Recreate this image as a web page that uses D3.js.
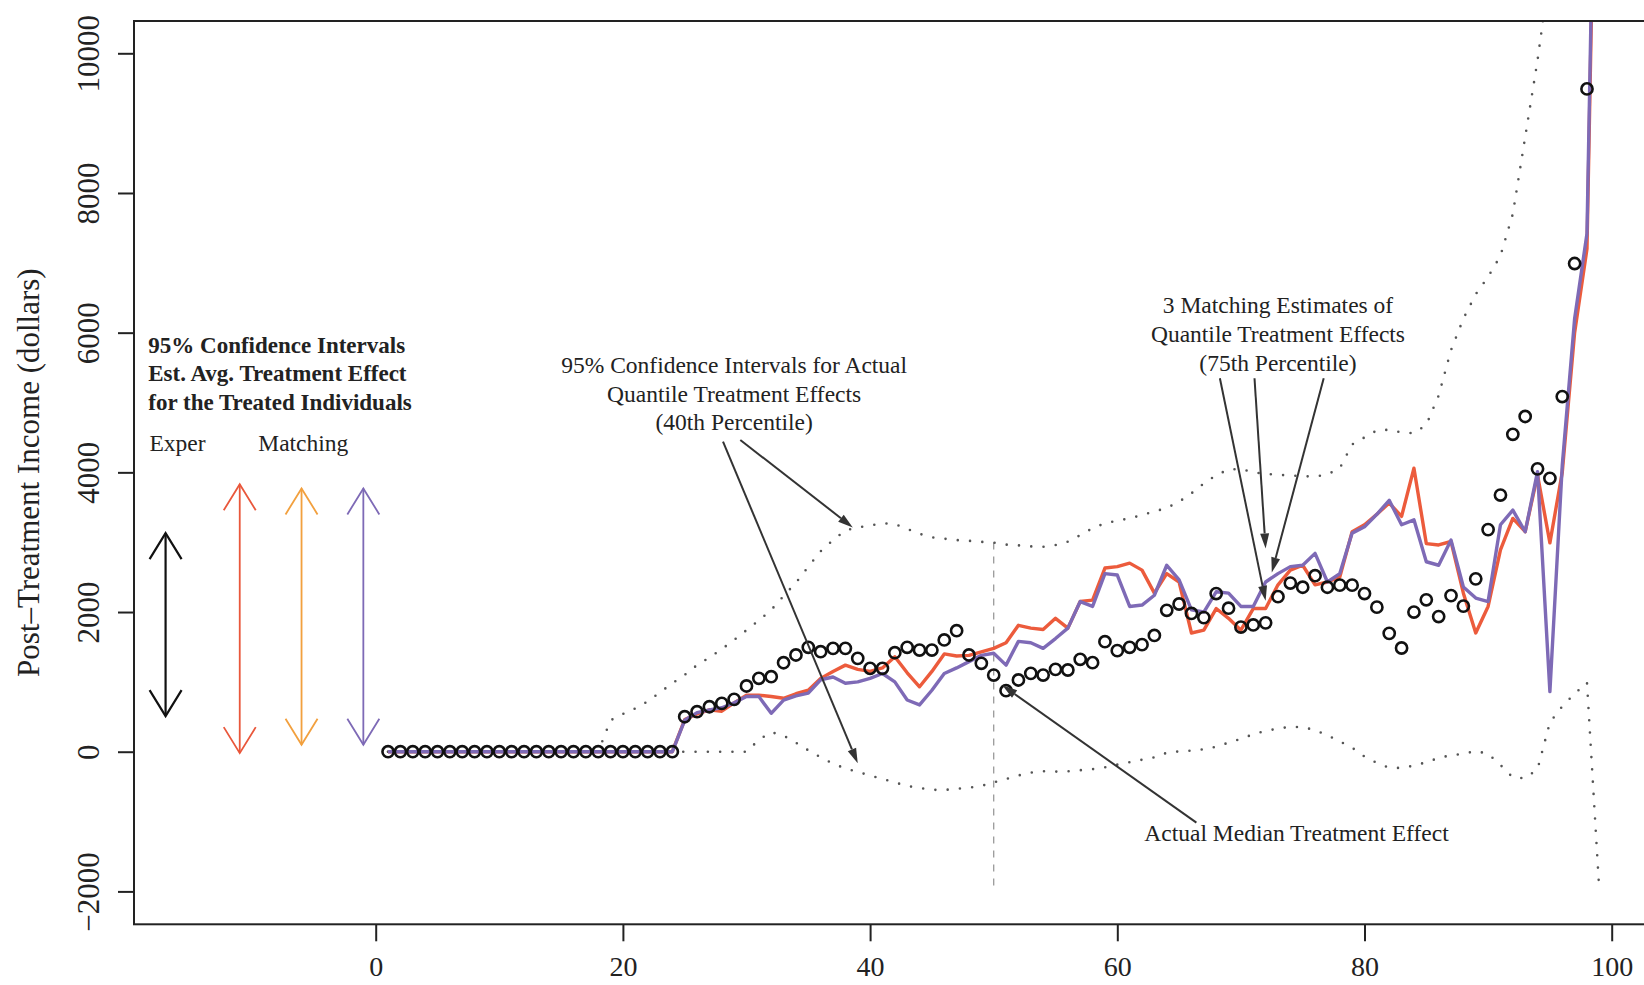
<!DOCTYPE html>
<html>
<head>
<meta charset="utf-8">
<script src="https://cdn.jsdelivr.net/npm/d3@7"></script>
<style>
  body { margin: 0; background: #fff; }
  text { font-family: "Liberation Serif", "Times New Roman", serif; fill: #222; }
</style>
</head>
<body>
<svg id="chart" width="1644" height="985"></svg>
<script>
// percentile index of the estimates
var pctPoints = d3.range(1, 99);   // 1..98
var pctLines = d3.range(1, 100);   // 1..99

// actual quantile treatment effects (circles)
var actualQTE = [0,0,0,0,0,0,0,0,0,0,0,0,0,0,0,0,0,0,0,0,0,0,0,0,
  501,573,644,692,750,941,1051,1074,1274,1385,1495,1432,1480,1480,1337,1194,1194,1418,1495,1456,1456,1600,1733,1385,1266,1098,
  874,1027,1122,1098,1179,1170,1323,1275,1575,1447,1495,1533,1665,2025,2115,1980,1920,2265,2055,1785,1815,1845,2220,2415,2355,2520,
  2355,2385,2385,2265,2070,1695,1485,2000,2175,1935,2235,2085,2475,3180,3675,4545,4800,4050,3915,5085,6990,9490];

// matching estimates (red and purple lines)
var matchRed = [0,0,0,0,0,0,0,0,0,0,0,0,0,0,0,0,0,0,0,0,0,0,0,0,
  460,540,600,580,700,810,810,790,765,830,880,1050,1150,1240,1180,1150,1200,1360,1130,930,1150,1400,1370,1380,1430,1480,
  1560,1810,1770,1750,1910,1770,2150,2170,2630,2650,2700,2600,2270,2550,2430,1700,1740,2050,1910,1740,2050,2050,2390,2600,2670,2390,
  2430,2500,3150,3250,3400,3560,3370,4060,2980,2960,3010,2270,1700,2080,2890,3340,3150,3960,2990,4000,6000,7200,16500];
var matchPurple = [0,0,0,0,0,0,0,0,0,0,0,0,0,0,0,0,0,0,0,0,0,0,0,0,
  450,560,600,630,700,790,790,550,740,800,840,1030,1070,980,1000,1050,1120,1000,740,670,880,1120,1200,1290,1380,1410,
  1240,1580,1560,1480,1620,1770,2150,2080,2550,2530,2080,2100,2240,2670,2460,2030,2000,2290,2270,2080,2080,2430,2550,2650,2670,2840,
  2430,2550,3130,3220,3400,3600,3250,3320,2720,2670,3030,2360,2200,2150,3250,3460,3150,4010,860,4100,6200,7420,17000];

// 95% confidence band for the actual 40th percentile effect (dotted)
var bandUpper = [0,0,0,0,0,0,0,0,0,0,0,0,0,0,0,0,0,0,
  450,540,620,720,850,980,1100,1240,1350,1470,1600,1740,1880,2030,2230,2420,2650,2870,3030,3170,3210,3240,3270,3260,3190,3120,3070,3050,
  3030,3020,3005,2995,2965,2955,2940,2935,2960,3007,3100,3200,3270,3310,3340,3390,3440,3490,3580,3700,3840,3960,4040,4050,4000,3980,
  3965,3955,3945,3940,3970,4060,4400,4500,4600,4610,4570,4560,4680,5100,5750,6200,6550,6800,7100,7700,8800,9900,11200];
var bandLower = [0,0,0,0,0,0,0,0,0,0,0,0,0,0,0,0,0,0,0,0,0,0,0,0,0,0,0,0,0,0,
  170,280,230,130,20,-80,-170,-240,-290,-340,-390,-440,-490,-520,-545,-548,-530,-515,-490,-440,
  -390,-340,-300,-280,-285,-280,-265,-250,-224,-185,-150,-115,-80,-15,5,15,34,72,130,185,250,300,330,358,352,310,
  234,148,57,-70,-160,-230,-232,-200,-150,-90,-50,-30,10,-30,-190,-370,-380,-250,420,650,830,990,-2000];

// confidence intervals for the average effect (legend arrows)
var ciX = [-17, -11, -6, -1];
var ciLow = [510, -20, 100, 100];
var ciHigh = [3130, 3830, 3770, 3770];
var ciColors = ["#111111", "#E9573B", "#F2A03E", "#7E6AB6"];

var xTicks = [0, 20, 40, 60, 80, 100];
var yTicks = [-2000, 0, 2000, 4000, 6000, 8000, 10000];

var colRed = "#EC5B3C", colPurple = "#7E6AB6";

var width = 1644, height = 985;
var L = 134, T = 21, B = 924.3;

var svg = d3.select("#chart");

var x = d3.scaleLinear().domain([0, 100]).range([375.7, 1611.7]);
var y = d3.scaleLinear().domain([-2000, 10000]).range([891.4, 53.3]);

svg.append("clipPath").attr("id", "plotclip")
  .append("rect").attr("x", L).attr("y", T).attr("width", width - L).attr("height", B - T);

var plot = svg.append("g").attr("clip-path", "url(#plotclip)");

// vertical dashed reference at the median
plot.append("line")
  .attr("x1", x(50)).attr("x2", x(50))
  .attr("y1", y(bandUpper[49])).attr("y2", y(-2000))
  .attr("stroke", "#9a9a9a").attr("stroke-width", 1.3).attr("stroke-dasharray", "7,7");

var line = d3.line().x(function (d) { return x(d[0]); }).y(function (d) { return y(d[1]); });

function pairs(xv, yv) { return yv.map(function (v, i) { return [xv[i], v]; }); }

// dotted confidence bands
[bandUpper, bandLower].forEach(function (band) {
  plot.append("path")
    .attr("d", line(pairs(pctLines, band)))
    .attr("fill", "none")
    .attr("stroke", "#555")
    .attr("stroke-width", 2.6)
    .attr("stroke-linecap", "round")
    .attr("stroke-dasharray", "0,12.3");
});

// matching estimates
plot.append("path").attr("d", line(pairs(pctLines, matchRed)))
  .attr("fill", "none").attr("stroke", colRed).attr("stroke-width", 3.4).attr("stroke-linejoin", "round");
plot.append("path").attr("d", line(pairs(pctLines, matchPurple)))
  .attr("fill", "none").attr("stroke", colPurple).attr("stroke-width", 3.4).attr("stroke-linejoin", "round");

// actual effects
plot.selectAll("circle.pt")
  .data(pairs(pctPoints, actualQTE))
  .enter().append("circle")
  .attr("class", "pt")
  .attr("cx", function (d) { return x(d[0]); })
  .attr("cy", function (d) { return y(d[1]); })
  .attr("r", 5.6)
  .attr("fill", "none")
  .attr("stroke", "#111")
  .attr("stroke-width", 2.6);

// legend: confidence interval arrows
function vHead(g, px, py, dir, color, w) {
  // open V arrowhead, dir = -1 up, +1 down
  g.append("path")
    .attr("d", "M" + (px - 16) + "," + (py - dir * 26) + "L" + px + "," + py + "L" + (px + 16) + "," + (py - dir * 26))
    .attr("fill", "none").attr("stroke", color).attr("stroke-width", w);
}
ciX.forEach(function (cx, i) {
  var w = i === 0 ? 2.2 : 1.8;
  var px = x(cx), top = y(ciHigh[i]), bot = y(ciLow[i]);
  plot.append("line").attr("x1", px).attr("x2", px).attr("y1", top).attr("y2", bot)
    .attr("stroke", ciColors[i]).attr("stroke-width", w);
  vHead(plot, px, top, -1, ciColors[i], w);
  vHead(plot, px, bot, 1, ciColors[i], w);
});

// annotation arrows (filled heads)
function arrow(g, p0, p1) {
  var x0 = x(p0[0]), y0 = y(p0[1]), x1 = x(p1[0]), y1 = y(p1[1]);
  var a = Math.atan2(y1 - y0, x1 - x0), len = 15, hw = 4.5;
  var bx = x1 - len * Math.cos(a), by = y1 - len * Math.sin(a);
  g.append("line").attr("x1", x0).attr("y1", y0).attr("x2", bx).attr("y2", by)
    .attr("stroke", "#333").attr("stroke-width", 2);
  g.append("path")
    .attr("d", "M" + x1 + "," + y1 +
      "L" + (bx + hw * Math.sin(a)) + "," + (by - hw * Math.cos(a)) +
      "L" + (bx - hw * Math.sin(a)) + "," + (by + hw * Math.cos(a)) + "Z")
    .attr("fill", "#333");
}
var notes = [
  [[28.1, 4439], [39.0, -166]],
  [[29.5, 4463], [38.6, 3212]],
  [[68.3, 5347], [72.0, 2161]],
  [[71.1, 5347], [72.0, 2911]],
  [[76.7, 5347], [72.5, 2566]],
  [[66.4, -1015], [50.7, 950]]
];
notes.forEach(function (n) { arrow(plot, n[0], n[1]); });

// text annotations
function textBlock(lines, cx, cy, opts) {
  var t = svg.append("text")
    .attr("x", x(cx)).attr("y", y(cy))
    .attr("text-anchor", opts.anchor || "middle")
    .attr("font-size", opts.size || 23.5)
    .attr("font-weight", opts.bold ? "bold" : "normal");
  lines.forEach(function (s, i) {
    t.append("tspan").attr("x", x(cx)).attr("dy", i === 0 ? "0.35em" : (opts.lh || 28.3)).text(s);
  });
}
textBlock(["95% Confidence Intervals for Actual", "Quantile Treatment Effects", "(40th Percentile)"], 29.0, 5537, {});
textBlock(["3 Matching Estimates of", "Quantile Treatment Effects", "(75th Percentile)"], 73.0, 6397, {lh: 28.8});
textBlock(["Actual Median Treatment Effect"], 74.5, -1166, {});
textBlock(["95% Confidence Intervals", "Est. Avg. Treatment Effect", "for the Treated Individuals"], -18.4, 5823,
  {anchor: "start", bold: true, size: 23, lh: 28.3});
textBlock(["Exper"], -18.3, 4420, {anchor: "start"});
textBlock(["Matching"], -9.5, 4420, {anchor: "start"});

// frame
svg.append("rect").attr("x", L).attr("y", T).attr("width", width + 10 - L).attr("height", B - T)
  .attr("fill", "none").attr("stroke", "#222").attr("stroke-width", 2);

// axes
var yAxis = svg.append("g").attr("transform", "translate(" + L + ",0)")
  .call(d3.axisLeft(y).tickValues(yTicks).tickSize(16).tickFormat(d3.format("d")));
yAxis.select(".domain").remove();
yAxis.selectAll("line").attr("stroke", "#222").attr("stroke-width", 2);
yAxis.selectAll("text")
  .attr("x", null).attr("dy", null)
  .attr("transform", "translate(-46,0) rotate(-90)")
  .attr("text-anchor", "middle").attr("dominant-baseline", "central")
  .attr("font-size", 31).attr("font-family", "Liberation Serif").attr("fill", "#222");

var xAxis = svg.append("g").attr("transform", "translate(0," + B + ")")
  .call(d3.axisBottom(x).tickValues(xTicks).tickSize(17));
xAxis.select(".domain").remove();
xAxis.selectAll("line").attr("stroke", "#222").attr("stroke-width", 2);
xAxis.selectAll("text")
  .attr("y", 42).attr("dy", null).attr("dominant-baseline", "central")
  .attr("font-size", 28).attr("font-family", "Liberation Serif").attr("fill", "#222");

svg.append("text")
  .attr("transform", "translate(28," + ((T + B) / 2) + ") rotate(-90)")
  .attr("text-anchor", "middle").attr("dominant-baseline", "central")
  .attr("font-size", 31)
  .text("Post\u2013Treatment Income (dollars)");
</script>
</body>
</html>
